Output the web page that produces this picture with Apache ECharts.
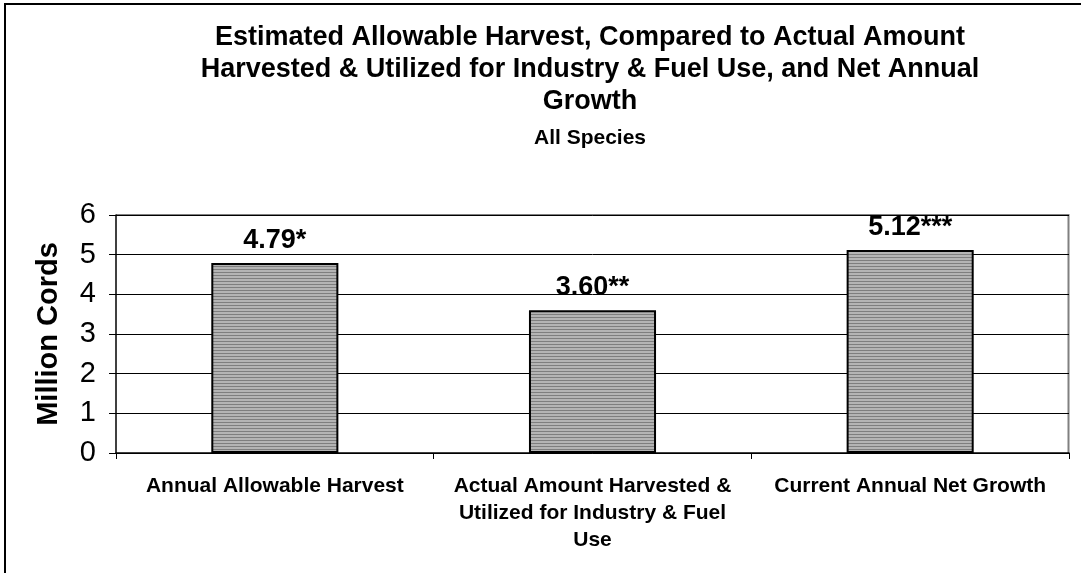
<!DOCTYPE html>
<html>
<head>
<meta charset="utf-8">
<script src="https://cdn.jsdelivr.net/npm/echarts@6/dist/echarts.min.js"></script>
<style>
  html, body { margin: 0; padding: 0; background: #fff; }
  #chart { width: 1081px; height: 573px; }
</style>
</head>
<body>
<div id="chart"></div>
<script>
// data
const categories = [
  'Annual Allowable Harvest',
  'Actual Amount Harvested &\nUtilized for Industry & Fuel\nUse',
  'Current Annual Net Growth'
]
const values = [4.79, 3.60, 5.12]
const valueLabels = ['4.79*', '3.60**', '5.12***']
const titleLines = [
  'Estimated Allowable Harvest, Compared to Actual Amount',
  'Harvested & Utilized for Industry & Fuel Use, and Net Annual',
  'Growth'
]
const subtitle = 'All Species'

// striped gray fill like the original
const makeStripes = () => {
  const c = document.createElement('canvas')
  c.width = 4
  c.height = 3
  const ctx = c.getContext('2d')
  ctx.fillStyle = '#b4b4b4'
  ctx.fillRect(0, 0, 4, 2)
  ctx.fillStyle = '#7e7e7e'
  ctx.fillRect(0, 2, 4, 1)
  return c
}

const chart = echarts.init(document.getElementById('chart'))
const font = 'Liberation Sans, Arial, sans-serif'

// title is centred on the whole (wider) chart frame, not the window
const titleX = 590
const titleGraphics = titleLines.map((t, i) => ({
  type: 'text',
  x: titleX,
  y: 38 + i * 32,
  silent: true,
  style: {
    text: t,
    fill: '#000',
    font: 'bold 27px ' + font,
    textAlign: 'center',
    textVerticalAlign: 'middle'
  }
}))

chart.setOption({
  animation: false,
  textStyle: { fontFamily: font },
  graphic: [
    {
      type: 'rect',
      shape: { x: 5, y: 4, width: 1090, height: 600 },
      style: { fill: 'none', stroke: '#000', lineWidth: 2 },
      silent: true
    },
    {
      // top and right edge of the plot area
      type: 'polyline',
      shape: { points: [[116, 215], [1068.5, 215], [1068.5, 453]] },
      style: { stroke: '#808080', lineWidth: 2, fill: 'none' },
      silent: true
    },
    ...titleGraphics,
    {
      type: 'text',
      x: titleX,
      y: 138,
      silent: true,
      style: {
        text: subtitle,
        fill: '#000',
        font: 'bold 21px ' + font,
        textAlign: 'center',
        textVerticalAlign: 'middle'
      }
    }
  ],
  grid: { left: 116, right: 12, top: 215, bottom: 120, containLabel: false },
  xAxis: {
    type: 'category',
    data: categories,
    axisLine: { lineStyle: { color: '#000', width: 1.5 } },
    axisTick: { show: true, length: 6, lineStyle: { color: '#000' }, alignWithLabel: false },
    axisLabel: {
      interval: 0,
      margin: 20,
      fontSize: 21,
      fontWeight: 'bold',
      color: '#000',
      lineHeight: 27,
      fontFamily: font
    }
  },
  yAxis: {
    type: 'value',
    min: 0,
    max: 6,
    interval: 1,
    name: 'Million Cords',
    nameLocation: 'middle',
    nameGap: 53,
    nameTextStyle: { fontSize: 29, fontWeight: 'bold', color: '#000', fontFamily: font },
    axisLine: { show: true, lineStyle: { color: '#000', width: 1.5 } },
    axisTick: { show: true, length: 7, lineStyle: { color: '#000' } },
    axisLabel: { fontSize: 29, color: '#000', margin: 20, fontFamily: font },
    splitLine: { lineStyle: { color: '#000', width: 1 } }
  },
  series: [{
    type: 'bar',
    data: values,
    barWidth: '40%',
    itemStyle: {
      color: { image: makeStripes(), repeat: 'repeat' },
      borderColor: '#000',
      borderWidth: 2
    },
    label: {
      show: true,
      position: 'top',
      distance: 9,
      fontSize: 27,
      fontWeight: 'bold',
      color: '#000',
      fontFamily: font,
      formatter: p => valueLabels[p.dataIndex]
    }
  }]
})
</script>
</body>
</html>
